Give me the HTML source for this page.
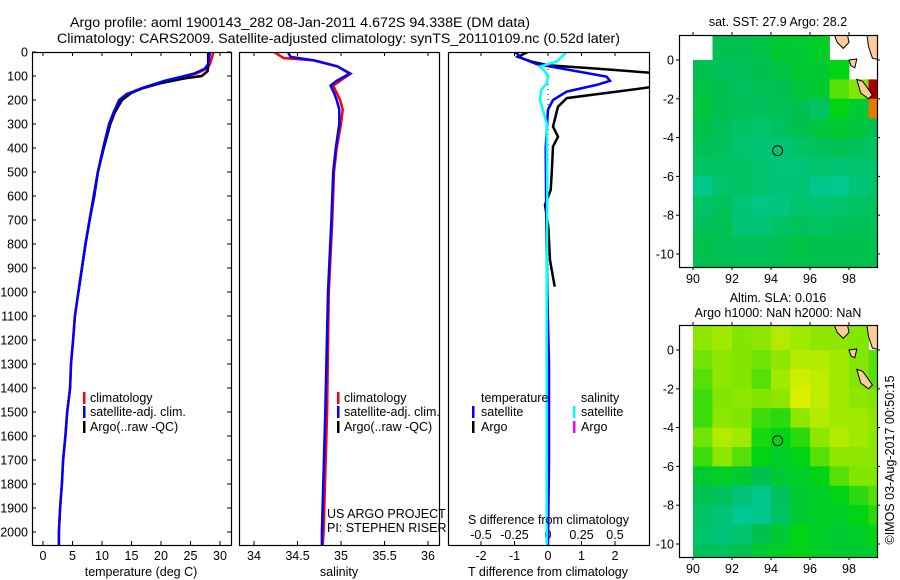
<!DOCTYPE html>
<html><head><meta charset="utf-8"><style>
html,body{margin:0;padding:0;background:#fff}
svg{display:block;font-family:"Liberation Sans",sans-serif}
text{fill:#000}
</style></head><body>
<svg id="fig" width="900" height="580" viewBox="0 0 900 580" xmlns="http://www.w3.org/2000/svg">
<rect width="900" height="580" fill="#fff"/>
<text x="70" y="27" font-size="13.5" textLength="460" lengthAdjust="spacingAndGlyphs">Argo profile: aoml 1900143_282 08-Jan-2011 4.672S 94.338E (DM data)</text>
<text x="57" y="43" font-size="13.5" textLength="563" lengthAdjust="spacingAndGlyphs">Climatology: CARS2009. Satellite-adjusted climatology: synTS_20110109.nc (0.52d later)</text>
<g id="plots"></g>
<g font-size="12.5">
<rect x="83" y="392" width="2.5" height="12" fill="#f00"/><text x="90" y="402">climatology</text>
<rect x="83" y="406" width="2.5" height="12" fill="#00f"/><text x="90" y="416">satellite-adj. clim.</text>
<rect x="83" y="421" width="2.5" height="12" fill="#000"/><text x="90" y="431">Argo(..raw -QC)</text>
</g>
<g font-size="12.5">
<rect x="337" y="392" width="2.5" height="12" fill="#f00"/><text x="344" y="402">climatology</text>
<rect x="337" y="406" width="2.5" height="12" fill="#00f"/><text x="344" y="416">satellite-adj. clim.</text>
<rect x="337" y="421" width="2.5" height="12" fill="#000"/><text x="344" y="431">Argo(..raw -QC)</text>
</g>
<g font-size="12.5">
<text x="481" y="402">temperature</text><text x="581" y="402">salinity</text>
<rect x="472" y="406" width="2.5" height="12" fill="#00f"/><text x="481" y="416">satellite</text>
<rect x="472" y="421" width="2.5" height="12" fill="#000"/><text x="481" y="431">Argo</text>
<rect x="573" y="406" width="2.5" height="12" fill="#0ff"/><text x="581" y="416">satellite</text>
<rect x="573" y="421" width="2.5" height="12" fill="#f0f"/><text x="581" y="431">Argo</text>
</g>
<text x="327" y="518" font-size="12.5">US ARGO PROJECT</text>
<text x="327" y="532" font-size="12.5">PI: STEPHEN RISER</text>
<text x="468" y="524" font-size="12.5">S difference from climatology</text>
<text x="141" y="576" font-size="12.5" text-anchor="middle">temperature (deg C)</text>
<text x="339" y="576" font-size="12.5" text-anchor="middle">salinity</text>
<text x="548" y="576" font-size="12.5" text-anchor="middle">T difference from climatology</text>
<text x="778" y="26" font-size="12.5" text-anchor="middle">sat. SST: 27.9 Argo: 28.2</text>
<text x="778" y="302" font-size="12.5" text-anchor="middle">Altim. SLA: 0.016</text>
<text x="778" y="317" font-size="12.5" text-anchor="middle">Argo h1000: NaN h2000: NaN</text>
<text transform="translate(894,460) rotate(-90)" font-size="12.5" text-anchor="middle">©IMOS 03-Aug-2017 00:50:15</text>
</svg>
<script>
const tClimDepth = [0,50,70,90,100,120,150,175,200,250,300,400,500,600,700,800,1000,1100,1200,1300,1400,1500,1600,1700,1800,1900,2000,2055];
const tClimVal   = [28.9,28.3,27.7,26.0,24.4,21.0,17.0,14.4,13.0,12.0,11.2,10.2,9.3,8.6,7.9,7.2,6.0,5.4,5.1,4.75,4.6,4.1,3.8,3.4,3.2,2.9,2.7,2.7];
const tSatDepth  = [0,50,70,90,100,120,150,175,200,250,300,400,500,600,700,800,1000,1100,1200,1300,1400,1500,1600,1700,1800,1900,2000,2055];
const tSatVal    = [28.3,28.0,27.4,25.6,24.0,20.6,16.8,14.2,12.9,12.0,11.2,10.2,9.3,8.6,7.9,7.2,6.0,5.4,5.1,4.75,4.6,4.1,3.8,3.4,3.2,2.9,2.7,2.7];
const tArgoDepth = [0,60,80,100,110,130,150,170,200,250,300,400,500,600,700,800,1000];
const tArgoVal   = [28.0,28.0,27.9,26.9,24.0,20.0,17.0,15.0,13.4,12.2,11.4,10.3,9.3,8.7,7.9,7.2,6.0];
const sClimDepth = [0,25,35,60,90,120,140,170,200,240,300,400,500,700,1000,1500,2000,2055];
const sClimVal   = [34.23,34.34,34.69,34.96,35.11,34.99,34.91,34.95,34.99,35.02,35.0,34.95,34.92,34.9,34.86,34.84,34.8,34.79];
const sSatDepth  = [0,20,35,60,90,120,140,170,200,240,300,400,500,700,1000,1500,2000,2055];
const sSatVal    = [34.39,34.42,34.69,34.96,35.1,34.95,34.88,34.92,34.95,34.98,34.98,34.94,34.91,34.89,34.85,34.82,34.78,34.78];
const dtSatDepth = [0,25,50,103,120,137,165,200,240,400,700,1000,1300,1700,2055];
const dtSatVal   = [-0.98,-0.79,-0.34,1.75,1.85,1.45,0.56,0.15,0.0,-0.07,-0.05,-0.02,0.03,0.03,0.0];
const dtArgoDepth= [0,20,40,55,70,88,144,192,228,311,353,394,506,575,637,728,867,978];
const dtArgoVal  = [-0.6,-0.9,-0.5,0.0,1.5,3.2,3.2,0.56,0.3,0.15,0.3,0.15,0.11,0.08,-0.09,0.01,0.06,0.2];
const dsSatDepth = [0,40,61,82,103,130,158,200,296,600,1000,1500,2055];
const dsSatVal   = [0.14,0.065,-0.06,-0.02,0.0,-0.01,-0.05,-0.06,-0.01,-0.005,-0.01,-0.01,-0.01];
const depthTicks = [0,100,200,300,400,500,600,700,800,900,1000,1100,1200,1300,1400,1500,1600,1700,1800,1900,2000];
const tempTicks = [0,5,10,15,20,25,30];
const salTicks = [34,34.5,35,35.5,36];
const tdiffTicks = [-2,-1,0,1,2];
const sdiffTicks = [-0.5,-0.25,0,0.25,0.5];
const lonTicks = [90,92,94,96,98];
const latTicks = [0,-2,-4,-6,-8,-10];
const mapLons = [89,90,91,92,93,94,95,96,97,98,99];
const mapLats = [1,0,-1,-2,-3,-4,-5,-6,-7,-8,-9,-10];
const n = null;
const sstGrid = [
[n,n,0.45,0.45,0.47,0.5,0.5,0.52,n,n,n],
[n,0.45,0.42,0.43,0.45,0.47,0.5,0.5,0.55,n,n],
[n,0.47,0.45,0.42,0.44,0.45,0.48,0.5,0.65,0.7,1.0],
[n,0.48,0.45,0.43,0.42,0.44,0.45,0.4,0.55,0.5,0.95],
[n,0.46,0.43,0.4,0.38,0.42,0.45,0.48,0.5,0.48,0.45],
[n,0.44,0.42,0.38,0.36,0.36,0.4,0.42,0.44,0.42,0.4],
[n,0.4,0.4,0.4,0.37,0.34,0.36,0.38,0.36,0.38,0.38],
[n,0.3,0.38,0.4,0.38,0.35,0.36,0.3,0.28,0.35,0.38],
[n,0.4,0.42,0.36,0.32,0.33,0.38,0.36,0.38,0.4,0.42],
[n,0.42,0.44,0.36,0.36,0.4,0.42,0.4,0.42,0.44,0.42],
[n,0.46,0.44,0.42,0.42,0.44,0.47,0.46,0.45,0.46,0.44],
[n,0.45,0.45,0.44,0.44,0.45,0.46,0.45,0.45,0.45,0.45]];
const slaGrid = [
[n,0.72,0.75,0.7,0.72,0.78,0.75,0.72,0.72,0.7,n],
[n,0.68,0.72,0.7,0.68,0.72,0.78,0.78,0.75,0.7,0.65],
[n,0.65,0.72,0.7,0.65,0.75,0.83,0.8,0.75,0.7,0.65],
[n,0.62,0.7,0.72,0.7,0.72,0.85,0.8,0.75,0.72,0.7],
[n,0.62,0.72,0.7,0.62,0.6,0.72,0.78,0.75,0.75,0.72],
[n,0.68,0.78,0.75,0.58,0.55,0.6,0.72,0.78,0.75,0.72],
[n,0.62,0.72,0.65,0.55,0.52,0.55,0.65,0.72,0.72,0.72],
[n,0.5,0.52,0.5,0.45,0.5,0.52,0.55,0.65,0.7,0.7],
[n,0.45,0.42,0.35,0.3,0.42,0.5,0.52,0.55,0.6,0.65],
[n,0.4,0.35,0.28,0.3,0.4,0.5,0.52,0.52,0.55,0.6],
[n,0.38,0.35,0.38,0.45,0.5,0.55,0.52,0.5,0.52,0.55],
[n,0.42,0.42,0.45,0.5,0.52,0.55,0.52,0.5,0.5,0.52]];
const argoLon = [94.338];
const argoLat = [-4.672];

const NS='http://www.w3.org/2000/svg';
const root=document.getElementById('plots');
function mk(tag,parent){const e=document.createElementNS(NS,tag);(parent||root).appendChild(e);return e;}
const yD=d=>52+d*0.24;
const xT=v=>43+v*5.9;
const xS=v=>254+(v-34)*87;
const xDT=v=>548+v*33.5;
const xDS=v=>548+v*134;
const lonX=l=>693+(l-90)*19.5;
const latY=l=>60-l*19.4;

function clip(id,x0,y0,x1,y1){
  const cp=mk('clipPath');cp.setAttribute('id',id);
  const r=mk('rect',cp);r.setAttribute('x',x0);r.setAttribute('y',y0);r.setAttribute('width',x1-x0);r.setAttribute('height',y1-y0);
}
function line(xs,ds,xf,color,w,clipId,name){
  const p=mk('path');
  
  
  p.setAttribute('d',ds.map((d,i)=>(i?'L':'M')+xf(xs[i]).toFixed(1)+','+yD(d).toFixed(1)).join(''));
  p.setAttribute('fill','none');p.setAttribute('stroke',color);p.setAttribute('stroke-width',w);
  p.setAttribute('clip-path','url(#'+clipId+')');
}
function frame(x0,y0,x1,y1,name){
  const r=mk('rect');
  
  
  r.setAttribute('x',x0+0.5);r.setAttribute('y',y0+0.5);r.setAttribute('width',x1-x0);r.setAttribute('height',y1-y0);
  r.setAttribute('fill','none');r.setAttribute('stroke','#000');r.setAttribute('stroke-width',1.2);
}
function tickLine(x1,y1,x2,y2){
  const t=mk('line');
  
  
  t.setAttribute('x1',x1);t.setAttribute('y1',y1);t.setAttribute('x2',x2);t.setAttribute('y2',y2);
  t.setAttribute('stroke','#000');t.setAttribute('stroke-width',1);
}
function label(x,y,s,anchor,name){
  const t=mk('text');
  
  
  t.setAttribute('x',x);t.setAttribute('y',y);t.setAttribute('font-size','12.5');
  t.setAttribute('text-anchor',anchor);t.textContent=s;
}
const P=[[32,231],[239,439],[448,649]];
const Y0=52,Y1=545;
P.forEach((p,i)=>clip('c'+i,p[0],Y0,p[1],Y1));
depthTicks.forEach(d=>{tickLine(32,yD(d),36,yD(d));tickLine(231,yD(d),227,yD(d));label(28,yD(d)+4.5,String(d),'end','depth-tick-label');});
function xticks(ticks,xf,p,lab){ticks.forEach(v=>{const x=xf(v);tickLine(x,Y0,x,Y0+4);tickLine(x,Y1,x,Y1-4);if(lab)label(x,560,String(v),'middle','x-tick-label');});}
xticks(tempTicks,xT,P[0],true);
xticks(salTicks,xS,P[1],true);
xticks(tdiffTicks,xDT,P[2],true);
sdiffTicks.forEach(v=>label(xDS(v),539,String(v),'middle','s-diff-tick-label'));
const z=mk('line');


z.setAttribute('x1',xDT(0));z.setAttribute('x2',xDT(0));z.setAttribute('y1',yD(50));z.setAttribute('y2',yD(1600));
z.setAttribute('stroke','#000');z.setAttribute('stroke-width',1);z.setAttribute('stroke-dasharray','1 4');
line(tClimVal,tClimDepth,xT,'#f00',2.5,'c0','temp-climatology-line');
line(tArgoVal,tArgoDepth,xT,'#000',2.5,'c0','temp-argo-line');
line(tSatVal,tSatDepth,xT,'#00f',2.5,'c0','temp-satellite-line');
line(sClimVal,sClimDepth,xS,'#f00',2.5,'c1','sal-climatology-line');
line(sSatVal,sSatDepth,xS,'#00f',2.5,'c1','sal-satellite-line');
line(dtArgoVal,dtArgoDepth,xDT,'#000',2.5,'c2','tdiff-argo-line');
line(dtSatVal,dtSatDepth,xDT,'#00f',2.5,'c2','tdiff-satellite-line');
line(dsSatVal,dsSatDepth,xDS,'#0ff',2.5,'c2','sdiff-satellite-line');
P.forEach((p,i)=>frame(p[0],Y0,p[1],Y1,'profile-panel-frame-'+(i+1)));

const stops=[[0,[0,210,200]],[0.3,[0,200,140]],[0.45,[0,192,80]],[0.55,[0,212,20]],[0.7,[130,230,0]],[0.85,[220,240,0]],[0.93,[255,170,0]],[1,[170,0,0]]];
function col(v){for(let i=1;i<stops.length;i++){if(v<=stops[i][0]){const a=stops[i-1],b=stops[i],t=(v-a[0])/(b[0]-a[0]);return 'rgb('+a[1].map((c,k)=>Math.round(c+(b[1][k]-c)*t)).join(',')+')';}}return 'rgb(170,0,0)';}
function drawMap(grid,yOff,id,name){
  const X0=679,X1=877,T=35+yOff,B=267+yOff;
  clip(id,X0,T,X1,B);
  const g=mk('g');
  
  
  g.setAttribute('clip-path','url(#'+id+')');
  grid.forEach((row,ri)=>row.forEach((v,ci)=>{
    if(v===null)return;
    const c=mk('rect',g);
    
    
    const lat=mapLats[ri],lon=mapLons[ci];
    const yt=ri===0?T-2:latY(lat)+yOff;
    c.setAttribute('x',lonX(lon));c.setAttribute('y',yt);
    c.setAttribute('width',19.9);c.setAttribute('height',latY(lat-1)+yOff-yt+0.4);
    c.setAttribute('fill',col(v));
  }));
  const lands=[[[97.2,1.4],[97.9,1.4],[98.0,0.9],[97.7,0.6],[97.4,0.9]],[[98.9,1.4],[99.6,1.4],[99.6,0.0],[99.2,0.1],[99.0,0.7]],[[98.4,-1.0],[98.7,-1.1],[99.2,-1.8],[99.0,-2.0],[98.6,-1.7]],[[98.0,0.0],[98.4,0.05],[98.3,-0.4],[98.1,-0.3]]];
  lands.forEach(poly=>{
    const l=mk('polygon',g);
    
    
    l.setAttribute('points',poly.map(q=>lonX(q[0]).toFixed(1)+','+(latY(q[1])+yOff).toFixed(1)).join(' '));
    l.setAttribute('fill','#ffcc99');l.setAttribute('stroke','#000');l.setAttribute('stroke-width',1);
  });
  argoLon.forEach((lo,i)=>{
    const c=mk('circle',g);
    
    
    c.setAttribute('cx',lonX(lo));c.setAttribute('cy',latY(argoLat[i])+yOff);c.setAttribute('r',5);
    c.setAttribute('fill','none');c.setAttribute('stroke','#000');c.setAttribute('stroke-width',1);
  });
  frame(X0,T,X1,B,name+'-frame');
  lonTicks.forEach(lo=>{const x=lonX(lo);tickLine(x,T,x,T-3);tickLine(x,B,x,B+3);label(x,B+16,String(lo),'middle','lon-tick-label');});
  latTicks.forEach(la=>{const y=latY(la)+yOff;tickLine(X0,y,X0-3,y);tickLine(X1,y,X1+3,y);label(674,y+4.5,String(la),'end','lat-tick-label');});
}
drawMap(sstGrid,0,'m1','sst-map');
drawMap(slaGrid,290,'m2','sla-map');
</script>
</body></html>
